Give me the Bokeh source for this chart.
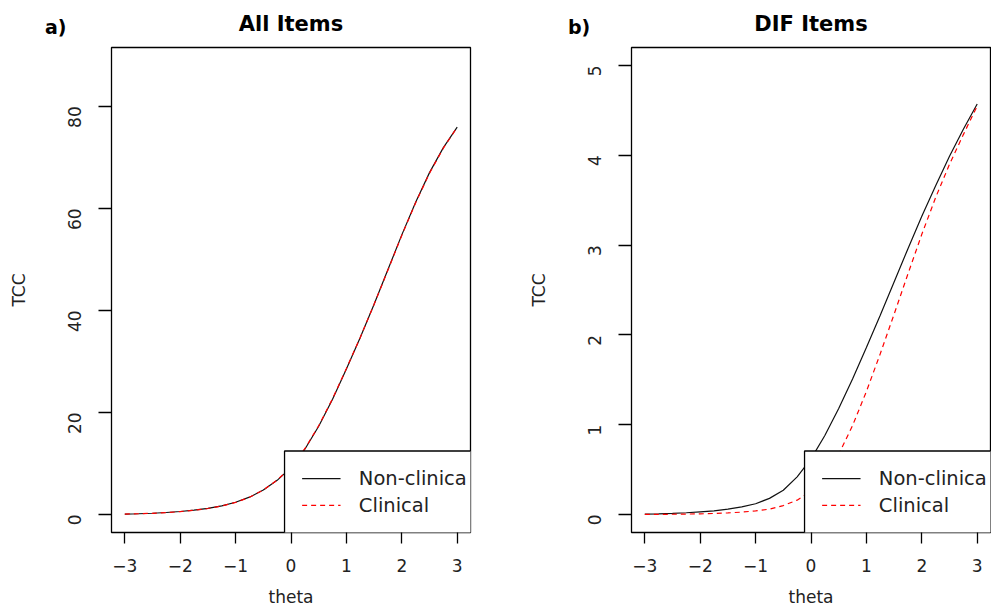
import math
from bokeh.plotting import figure
from bokeh.layouts import row
from bokeh.models import Range1d, FixedTicker, Div
from bokeh.core.properties import value
from bokeh.embed import file_html
from bokeh.resources import INLINE

# ---------------- data ----------------
theta = [-3.0, -2.75, -2.5, -2.25, -2.0, -1.75, -1.5, -1.25, -1.0, -0.75, -0.5, -0.25,
         0.0, 0.25, 0.5, 0.75, 1.0, 1.25, 1.5, 1.75, 2.0, 2.25, 2.5, 2.75, 3.0]

all_nonclinical = [0.1, 0.15, 0.25, 0.4, 0.6, 0.85, 1.2, 1.7, 2.4, 3.4, 4.8, 6.7,
                   9.2, 12.8, 17.3, 22.6, 28.5, 34.7, 41.2, 48.0, 54.8, 61.2, 67.0, 71.9, 75.9]
all_clinical = [0.1, 0.15, 0.24, 0.38, 0.58, 0.83, 1.18, 1.68, 2.38, 3.38, 4.8, 6.75,
                9.3, 12.9, 17.4, 22.7, 28.6, 34.7, 41.2, 47.9, 54.7, 61.1, 66.9, 71.8, 75.9]

dif_nonclinical = [0.005, 0.008, 0.012, 0.02, 0.03, 0.04, 0.06, 0.085, 0.12, 0.18, 0.27, 0.42,
                   0.62, 0.88, 1.18, 1.51, 1.86, 2.22, 2.59, 2.96, 3.32, 3.66, 3.99, 4.29, 4.57]
dif_clinical = [0.001, 0.002, 0.003, 0.005, 0.008, 0.012, 0.018, 0.027, 0.04, 0.06, 0.1, 0.16,
                0.26, 0.42, 0.67, 0.99, 1.37, 1.79, 2.23, 2.68, 3.12, 3.53, 3.90, 4.23, 4.55]

x_ticks = [-3, -2, -1, 0, 1, 2, 3]
x_tick_labels = ["\u22123", "\u22122", "\u22121", "0", "1", "2", "3"]
y_ticks_all = [0, 20, 40, 60, 80]
y_ticks_dif = [0, 1, 2, 3, 4, 5]
legend_labels = ["Non-clinica", "Clinical"]   # as printed (cut at the frame) in the original
panel_titles = ["All Items", "DIF Items"]
panel_tags = ["a)", "b)"]

FONT = "DejaVu Sans"
TXT = "#222222"


def make_panel(width, min_right, title, ys_black, ys_red, ylim, yticks):
    x0, x1 = -3.24, 3.24
    pad = 0.04 * (ylim[1] - ylim[0])
    y0, y1 = ylim[0] - pad, ylim[1] + pad
    p = figure(width=width, height=610, x_range=Range1d(x0, x1), y_range=Range1d(y0, y1),
               output_backend="svg", toolbar_location=None,
               min_border_left=111, min_border_right=min_right,
               min_border_top=47, min_border_bottom=78,
               background_fill_color="white", border_fill_color="white")
    p.grid.visible = False
    p.outline_line_color = "black"
    p.outline_line_width = 1.3
    p.outline_line_alpha = 1.0

    p.title.text = title
    p.title.align = "center"
    p.title.vertical_align = "top"
    p.title.text_font = FONT
    p.title.text_font_size = "21px"
    p.title.text_font_style = "bold"
    p.title.text_color = "black"
    p.title.standoff = 20

    for ax in (p.xaxis[0], p.yaxis[0]):
        ax.axis_line_color = None
        ax.major_tick_line_color = "black"
        ax.major_tick_line_width = 1.3
        ax.minor_tick_line_color = None
        ax.major_tick_in = 0
        ax.major_label_text_font = FONT
        ax.major_label_text_font_size = "17px"
        ax.major_label_text_color = TXT
        ax.axis_label_text_font = FONT
        ax.axis_label_text_font_size = "17px"
        ax.axis_label_text_font_style = "normal"
        ax.axis_label_text_color = TXT

    p.xaxis.ticker = FixedTicker(ticks=x_ticks)
    p.xaxis.major_label_overrides = {t: l for t, l in zip(x_ticks, x_tick_labels)}
    p.xaxis.major_tick_out = 11
    p.xaxis.major_label_standoff = 15
    p.xaxis.axis_label = "theta"
    p.xaxis.axis_label_standoff = 12

    p.yaxis.ticker = FixedTicker(ticks=yticks)
    p.yaxis.major_tick_out = 13
    p.yaxis.major_label_standoff = 24
    p.yaxis.major_label_orientation = math.pi / 2
    p.yaxis.axis_label = "TCC"
    p.yaxis.axis_label_standoff = 30

    p.line(theta, ys_black, line_color="#111111", line_width=1.2)
    p.line(theta, ys_red, line_color="red", line_width=1.2, line_dash="5 4")

    # legend box (bottom-right, its right/bottom edges hidden under the frame like the original)
    fx = lambda f: x0 + f * (x1 - x0)
    fy = lambda f: y0 + f * (y1 - y0)
    p.quad(left=[fx(0.482)], right=[fx(1.2)], bottom=[fy(-0.2)], top=[fy(0.168)],
           fill_color="white", line_color="black", line_width=1.3)
    p.line([fx(0.531), fx(0.638)], [fy(0.111), fy(0.111)], line_color="#111111", line_width=1.2)
    p.line([fx(0.531), fx(0.638)], [fy(0.056), fy(0.056)], line_color="red", line_width=1.2,
           line_dash="5 4")
    p.text(x=[fx(0.689), fx(0.689)], y=[fy(0.111), fy(0.056)], text=legend_labels,
           text_font=value(FONT), text_font_size="19.5px", text_baseline="middle",
           text_align="left", text_color=TXT)
    return p


def make_tag(text, left):
    return Div(text=text, width=30, height=24,
               styles={"position": "absolute", "left": f"{left}px", "top": "16px",
                       "z-index": "10", "font-family": FONT, "font-size": "19px",
                       "font-weight": "bold", "color": "black", "margin": "0",
                       "line-height": "normal"})


p1 = make_panel(520, 50, panel_titles[0], all_nonclinical, all_clinical, (0, 88), y_ticks_all)
p2 = make_panel(471, 1, panel_titles[1], dif_nonclinical, dif_clinical, (0, 5), y_ticks_dif)

layout = row(p1, p2, make_tag(panel_tags[0], 45), make_tag(panel_tags[1], 568))
open("out.html", "w").write(file_html(layout, INLINE))
